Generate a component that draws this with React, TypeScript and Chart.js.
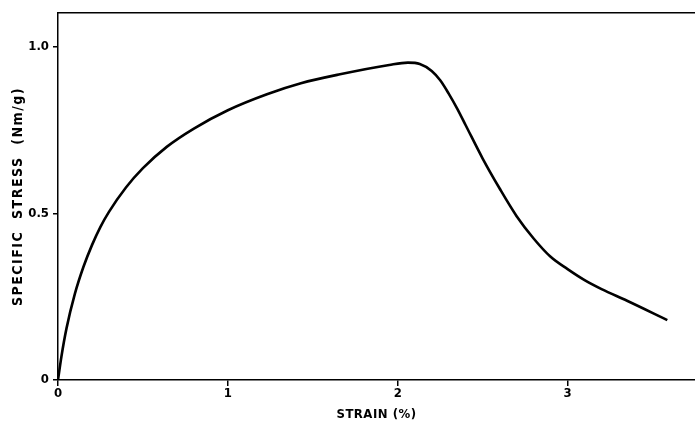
import { useEffect, useRef } from "react";
import { Chart, registerables } from "chart.js";

Chart.register(...registerables);

// Strain (%) values along the curve
const strain = [
  0, 0.02, 0.05, 0.1, 0.15, 0.2, 0.25, 0.3, 0.4, 0.5, 0.64, 0.8, 1.0, 1.23, 1.43, 1.66, 1.95,
  2.06, 2.13, 2.2, 2.25, 2.3, 2.35, 2.4, 2.5, 2.6, 2.7, 2.8, 2.9, 3.0, 3.1, 3.2, 3.35, 3.587,
];
// Specific stress (Nm/g) values
const stress = [
  0, 0.07, 0.155, 0.26, 0.34, 0.405, 0.46, 0.505, 0.578, 0.636, 0.7, 0.755, 0.81, 0.858, 0.891,
  0.918, 0.946, 0.953, 0.949, 0.928, 0.9, 0.86, 0.815, 0.765, 0.665, 0.575, 0.492, 0.425, 0.37,
  0.333, 0.3, 0.273, 0.238, 0.18,
];

const xTickValues = [0, 1, 2, 3];
const xTickLabels = ["0", "1", "2", "3"];
const yTickValues = [0, 0.5, 1.0];
const yTickLabels = ["0", "0.5", "1.0"];
const xTitle = "STRAIN (%)";
const yTitle = "SPECIFIC  STRESS  (Nm/g)";

const X_MAX = 3.75;
const Y_MAX = 1.102;

const FONT = "'DejaVu Sans Condensed', 'DejaVu Sans', sans-serif";

const titleSpacing = {
  id: "titleSpacing",
  beforeDraw(chart: any) {
    const wrap = (s: any, spacing: string) => {
      if (s && !s.__wrapped) {
        const orig = s.drawTitle.bind(s);
        s.drawTitle = function () {
          const ctx: any = chart.ctx;
          const prev = ctx.letterSpacing;
          ctx.letterSpacing = spacing;
          orig();
          ctx.letterSpacing = prev || "0px";
        };
        s.__wrapped = true;
      }
    };
    wrap(chart.scales.y, "1.5px");
    wrap(chart.scales.x, "0.5px");
  },
};

export default function App() {
  const ref = useRef<HTMLCanvasElement>(null);

  useEffect(() => {
    if (!ref.current) return;
    const chart = new Chart(ref.current, {
      type: "line",
      data: {
        datasets: [
          {
            data: strain.map((x, i) => ({ x, y: stress[i] })),
            borderColor: "#000",
            borderWidth: 2.6,
            pointRadius: 0,
            cubicInterpolationMode: "monotone",
            fill: false,
          },
        ],
      },
      plugins: [titleSpacing],
      options: {
        animation: false,
        responsive: false,
        layout: { padding: { top: 13, left: 0, right: 0, bottom: 0 } },
        plugins: { legend: { display: false }, tooltip: { enabled: false } },
        scales: {
          x: {
            type: "linear",
            min: 0,
            max: X_MAX,
            afterBuildTicks: (s: any) => {
              s.ticks = xTickValues.map((v) => ({ value: v }));
            },
            afterFit: (s: any) => {
              s.height = 48;
            },
            ticks: {
              color: "#000",
              font: { family: FONT, size: 13, weight: "bold" },
              padding: 0,
              callback: (v: any) => {
                const i = xTickValues.indexOf(Number(v));
                return i >= 0 ? xTickLabels[i] : "";
              },
              maxRotation: 0,
            },
            grid: { drawOnChartArea: false, color: "#000", tickLength: 6, lineWidth: 1.5 },
            border: { color: "#000", width: 1.5 },
            title: {
              display: true,
              text: xTitle,
              color: "#000",
              font: { family: FONT, size: 13, weight: "bold" },
              padding: { top: 0, bottom: 6 },
            },
          },
          x2: {
            type: "linear",
            position: "top",
            min: 0,
            max: X_MAX,
            ticks: { display: false },
            grid: { display: false },
            border: { color: "#000", width: 1.5 },
            afterFit: (s: any) => {
              s.height = 0;
            },
          },
          y: {
            type: "linear",
            min: 0,
            max: Y_MAX,
            afterBuildTicks: (s: any) => {
              s.ticks = yTickValues.map((v) => ({ value: v }));
            },
            afterFit: (s: any) => {
              s.width = 58;
            },
            ticks: {
              color: "#000",
              font: { family: FONT, size: 13, weight: "bold" },
              padding: 4,
              callback: (v: any) => {
                const i = yTickValues.indexOf(Number(v));
                return i >= 0 ? yTickLabels[i] : "";
              },
            },
            grid: { drawOnChartArea: false, color: "#000", tickLength: 5, lineWidth: 1.5 },
            border: { color: "#000", width: 1.5 },
            title: {
              display: true,
              text: yTitle,
              color: "#000",
              font: { family: FONT, size: 14, weight: "bold" },
              padding: { top: 10, bottom: 0 },
            },
          },
        },
      },
    });
    return () => chart.destroy();
  }, []);

  return (
    <div style={{ position: "fixed", left: 0, top: 0, width: 695, height: 428, background: "#fff" }}>
      <canvas ref={ref} width={695} height={428} style={{ display: "block" }} />
    </div>
  );
}
